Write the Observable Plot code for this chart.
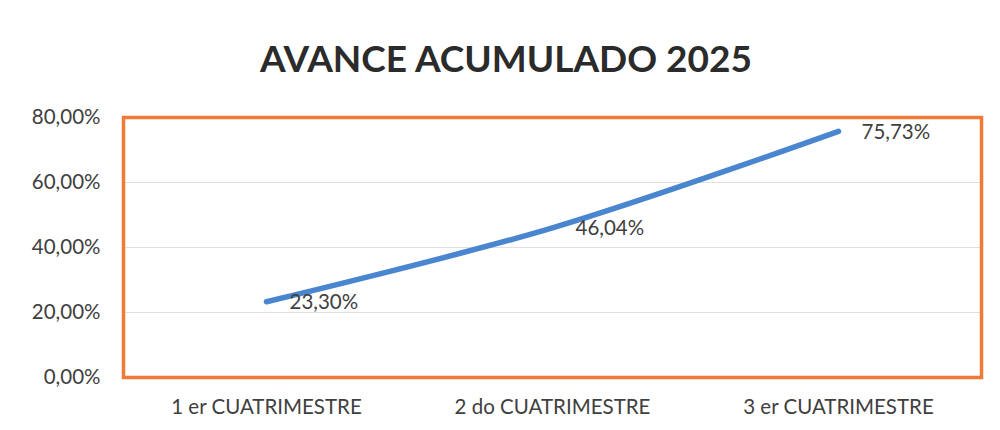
<!DOCTYPE html>
<html>
<head>
<meta charset="utf-8">
<script src="https://cdn.jsdelivr.net/npm/d3@7"></script>
<script src="https://cdn.jsdelivr.net/npm/@observablehq/plot@0.6"></script>
<style>
  html, body { margin: 0; padding: 0; background: #ffffff; }
  #title { height: 95px; box-sizing: border-box; padding-top: 38px; text-align: center; font-family: Lato, "Open Sans", sans-serif; font-weight: 700; font-size: 37px; line-height: 40px; color: #2b2b2b; padding-left: 12px; }
  #chart svg { display: block; }
</style>
</head>
<body>
<div id="title">AVANCE ACUMULADO 2025</div>
<div id="chart"></div>
<script>
const categories = ["1 er CUATRIMESTRE", "2 do CUATRIMESTRE", "3 er CUATRIMESTRE"];
const values = [23.30, 46.04, 75.73];
const yTicks = [0, 20, 40, 60, 80];

const data = categories.map((c, i) => ({ cat: c, v: values[i] }));
const fmt = d => d.toFixed(2).replace(".", ",") + "%";

const chart = Plot.plot({
  width: 1000,
  height: 335,
  marginTop: 22,
  marginBottom: 53,
  marginLeft: 123,
  marginRight: 19,
  style: { fontFamily: "Lato, 'Open Sans', sans-serif", fontSize: "20.5px", color: "#404040", background: "#ffffff" },
  x: { type: "point", domain: categories, padding: 0.5, label: null, tickSize: 0, tickPadding: 22 },
  y: { domain: [0, 80], ticks: yTicks, tickFormat: fmt, label: null, tickSize: 0, tickPadding: 23 },
  marks: [
    Plot.gridY(yTicks, { stroke: "#e0e0e0", strokeOpacity: 1, strokeWidth: 1 }),
    Plot.frame({ stroke: "#f07a38", strokeWidth: 3.5 }),
    Plot.line(data, { x: "cat", y: "v", stroke: "#4a86cf", strokeWidth: 5.5, curve: "catmull-rom", strokeLinecap: "round" }),
    Plot.text(data, { x: "cat", y: "v", text: d => fmt(d.v), textAnchor: "start", dx: 23, dy: 1, fontSize: 20.5, fill: "#404040" })
  ]
});
document.getElementById("chart").appendChild(chart);
</script>
</body>
</html>
